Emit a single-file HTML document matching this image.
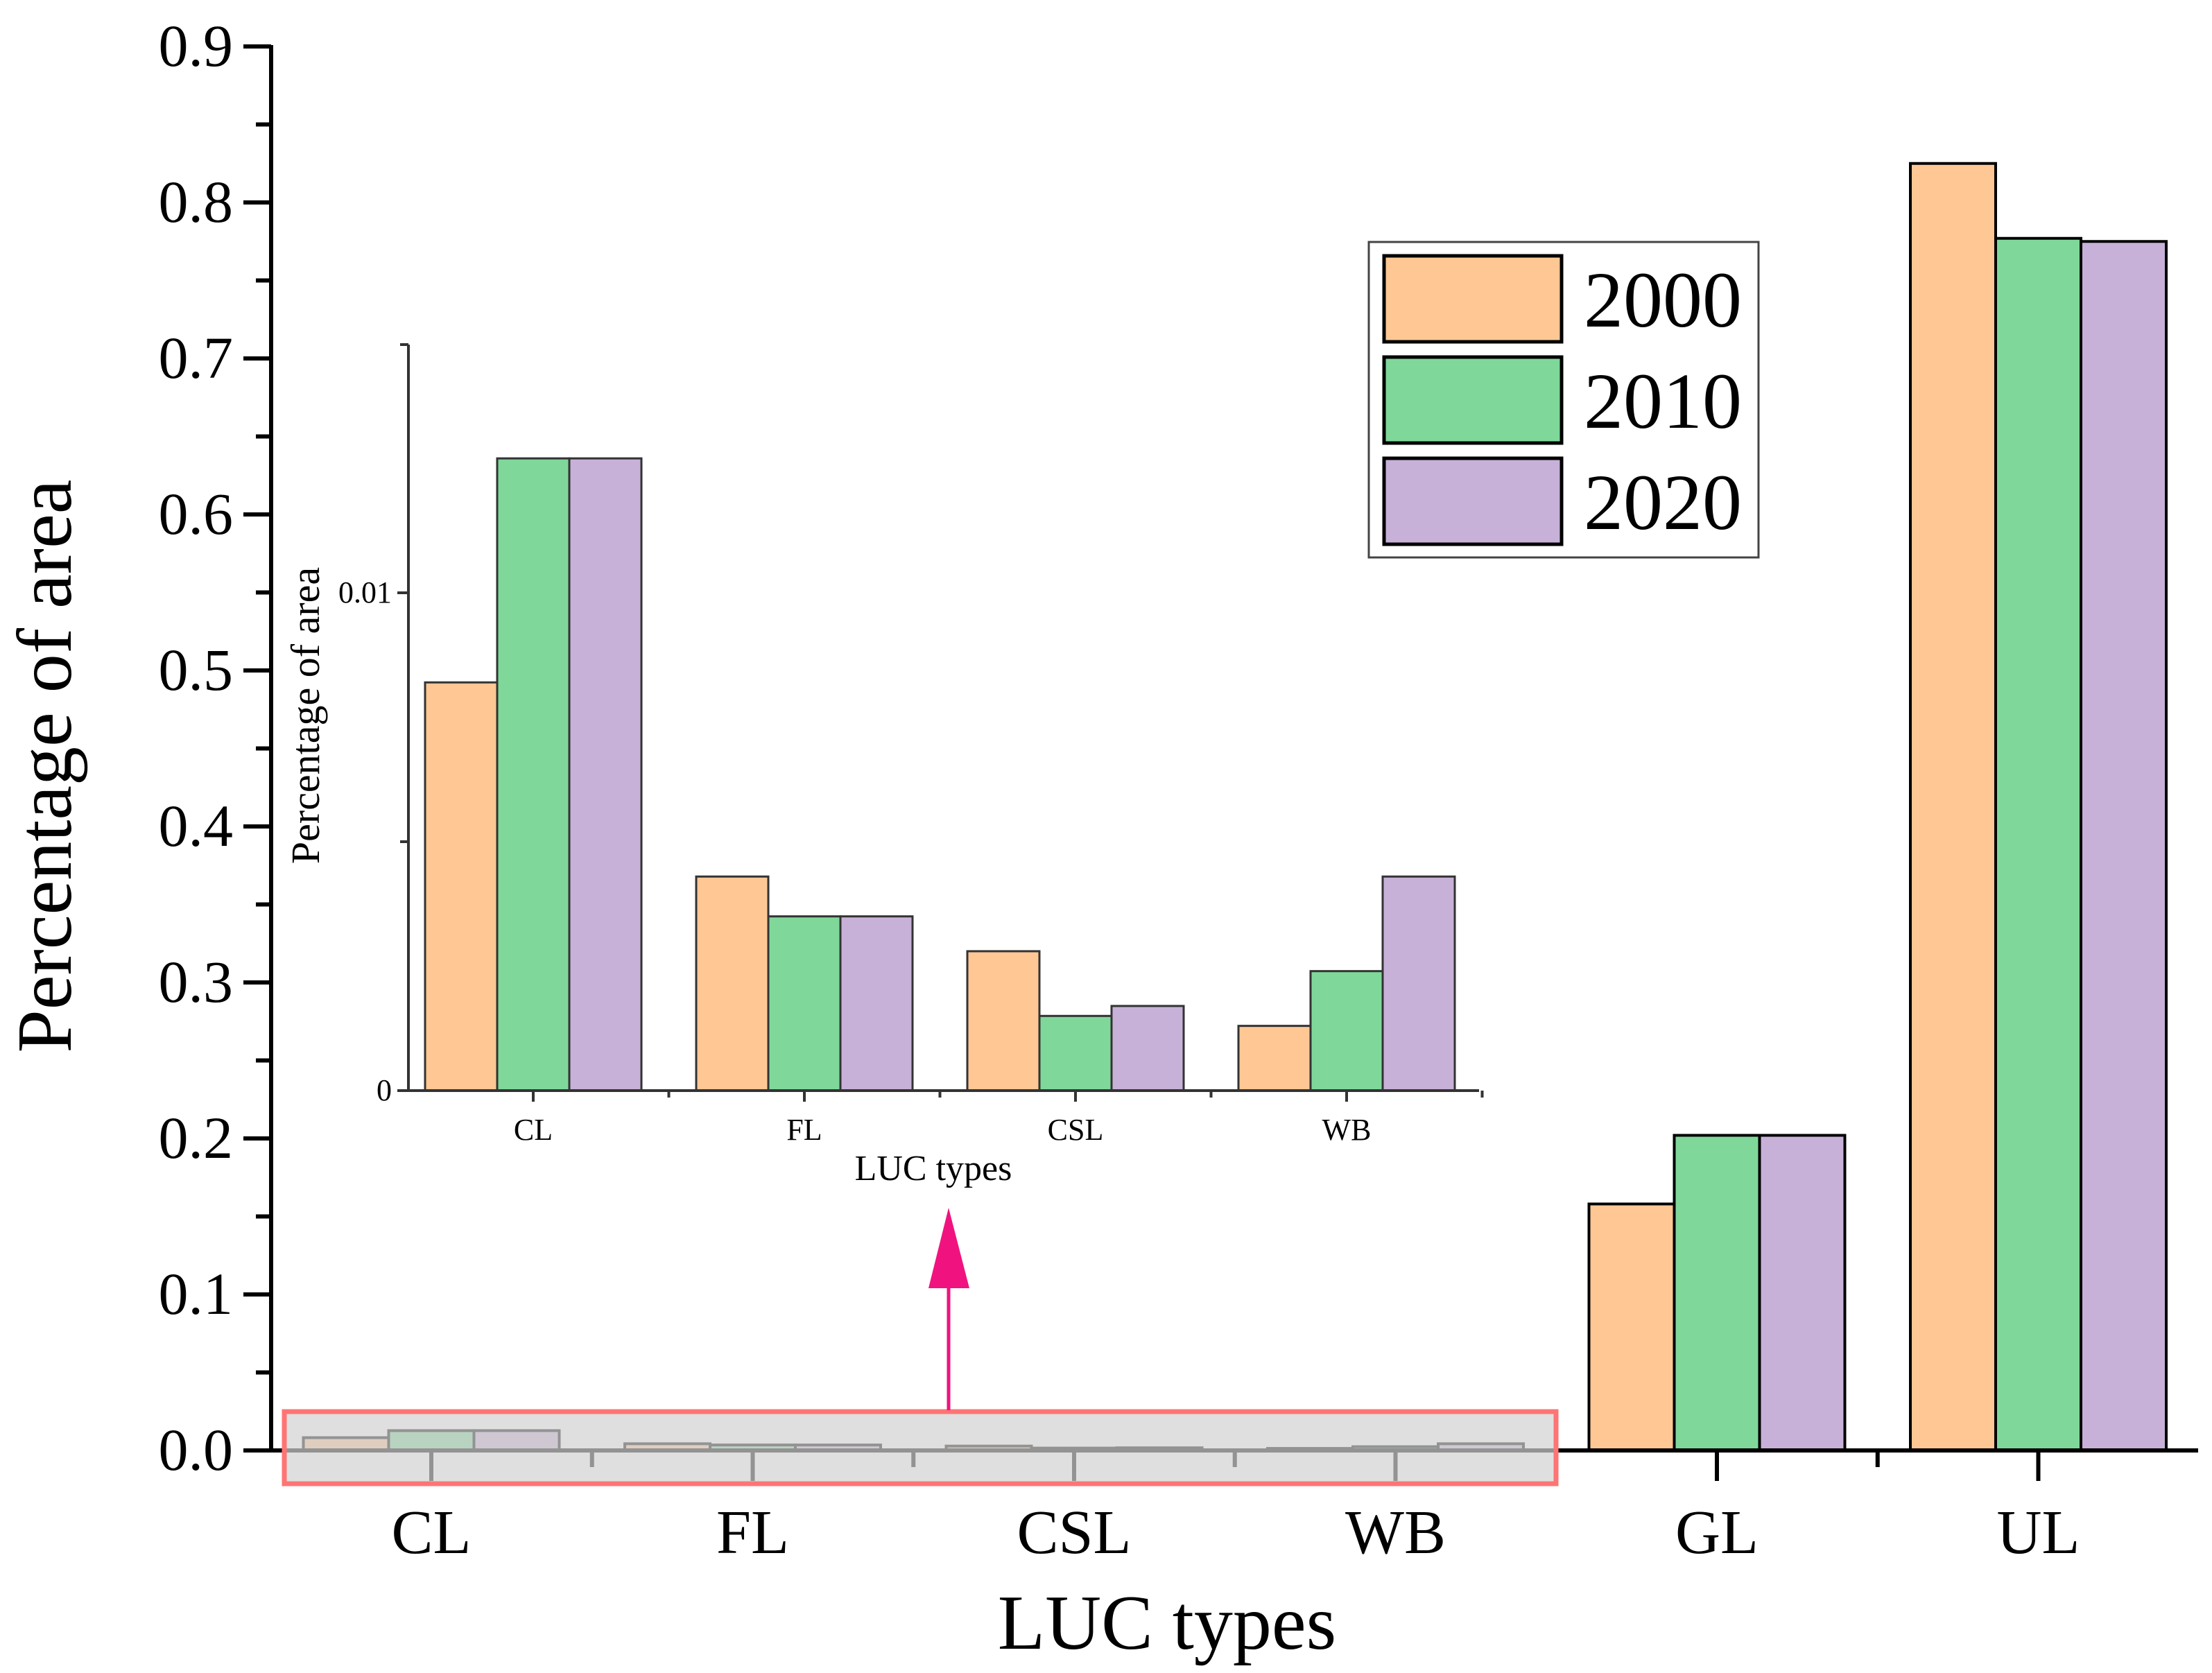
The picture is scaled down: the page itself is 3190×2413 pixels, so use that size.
<!DOCTYPE html>
<html><head><meta charset="utf-8"><style>
html,body{margin:0;padding:0;background:#fff;}
svg{display:block;font-family:"Liberation Serif",serif;}
</style></head><body>
<svg id="chart" width="3190" height="2413" viewBox="0 0 3190 2413" xmlns="http://www.w3.org/2000/svg">
<g id="main"></g><g id="inset"></g><g id="overlay"></g>
</svg>
<script>
const categories = ["CL","FL","CSL","WB","GL","UL"];
const series = ["2000","2010","2020"];
const values2000 = [0.0082,0.0043,0.0028,0.0013,0.158,0.825];
const values2010 = [0.0127,0.0035,0.0015,0.0024,0.202,0.777];
const values2020 = [0.0127,0.0035,0.0017,0.0043,0.202,0.775];
const yTicks = ["0.0","0.1","0.2","0.3","0.4","0.5","0.6","0.7","0.8","0.9"];
const insetCategories = ["CL","FL","CSL","WB"];
const insetTicks = ["0","0.01"];

const NS="http://www.w3.org/2000/svg";
const colors=["#fec794","#7fd89a","#c8b1d8"];
const allVals=[values2000,values2010,values2020];
function mk(parent,tag,attrs,text){const e=document.createElementNS(NS,tag);for(const k in attrs)e.setAttribute(k,attrs[k]);if(text!==undefined)e.textContent=text;parent.appendChild(e);return e;}
const main=document.getElementById('main'), inset=document.getElementById('inset'), ov=document.getElementById('overlay');

const X0=391, XEND=3170, Y0=2092, YTOP=67, YMAX=0.9;
const catStep=463.5, firstCat=622, barW=123;
const y=v=>Y0-(v/YMAX)*(Y0-YTOP);
const xc=i=>firstCat+i*catStep;

for(let s=0;s<3;s++){for(let i=0;i<categories.length;i++){
  const v=allVals[s][i];
  const r=mk(main,'rect',{x:xc(i)-1.5*barW+s*barW,y:y(v),width:barW,height:Y0-y(v),fill:colors[s],stroke:'#000','stroke-width':4});
  
  
}}
let ya=mk(main,'line',{x1:X0,y1:YTOP-2,x2:X0,y2:Y0+2,stroke:'#000','stroke-width':6});

for(let k=0;k<yTicks.length;k++){
  const v=k*0.1;
  mk(main,'line',{x1:X0-40,y1:y(v),x2:X0,y2:y(v),stroke:'#000','stroke-width':6});
  if(k<yTicks.length-1) mk(main,'line',{x1:X0-22,y1:y(v+0.05),x2:X0,y2:y(v+0.05),stroke:'#000','stroke-width':6});
  const t=mk(main,'text',{x:X0-55,y:y(v)+28,'font-size':86,'text-anchor':'end'},yTicks[k]);
  
}
let xa=mk(main,'line',{x1:X0-3,y1:Y0,x2:XEND,y2:Y0,stroke:'#000','stroke-width':6});

for(let i=0;i<categories.length;i++){
  mk(main,'line',{x1:xc(i),y1:Y0,x2:xc(i),y2:Y0+44,stroke:'#000','stroke-width':6});
  if(i<categories.length-1) mk(main,'line',{x1:xc(i)+catStep/2,y1:Y0,x2:xc(i)+catStep/2,y2:Y0+24,stroke:'#000','stroke-width':6});
  const t=mk(main,'text',{x:xc(i),y:2240,'font-size':90,'text-anchor':'middle'},categories[i]);
  
}
let xt=mk(main,'text',{x:1683,y:2378,'font-size':112,'text-anchor':'middle'},'LUC types');

let yt=mk(main,'text',{x:0,y:0,'font-size':112,'text-anchor':'middle',transform:'translate(102,1105) rotate(-90)'},'Percentage of area');


let lg=mk(main,'g',{});

mk(lg,'rect',{x:1974,y:349,width:562,height:455,fill:'#fff',stroke:'#444','stroke-width':3});
for(let s=0;s<3;s++){
  const yy=369+s*146;
  const sw=mk(lg,'rect',{x:1996,y:yy,width:256,height:124,fill:colors[s],stroke:'#000','stroke-width':5});
  
  const t=mk(lg,'text',{x:2284,y:yy+102,'font-size':114},series[s]);
  
}

let hb=mk(ov,'rect',{x:410,y:2036,width:1834,height:104,fill:'rgba(210,210,210,0.7)',stroke:'#ff7474','stroke-width':7});

let al=mk(ov,'line',{x1:1368,y1:2034,x2:1368,y2:1850,stroke:'#f0137f','stroke-width':5});

mk(ov,'polygon',{points:'1368,1742 1339,1858 1398,1858',fill:'#f0137f'});

const IX0=589, IXEND=2133, IY0=1573, IYTOP=497;
const iy=v=>IY0-(v/0.01)*(IY0-855);
const iStep=391, iFirst=769, iBarW=104;
const ixc=i=>iFirst+i*iStep;
for(let s=0;s<3;s++){for(let i=0;i<insetCategories.length;i++){
  const v=allVals[s][i];
  const r=mk(inset,'rect',{x:ixc(i)-1.5*iBarW+s*iBarW,y:iy(v),width:iBarW,height:IY0-iy(v),fill:colors[s],stroke:'#333','stroke-width':3});
  
  
}}
mk(inset,'line',{x1:IX0,y1:IYTOP,x2:IX0,y2:IY0,stroke:'#333','stroke-width':4});
mk(inset,'line',{x1:IX0-12,y1:IYTOP,x2:IX0,y2:IYTOP,stroke:'#333','stroke-width':4});
mk(inset,'line',{x1:IX0-12,y1:iy(0.005),x2:IX0,y2:iy(0.005),stroke:'#333','stroke-width':4});
for(let k=0;k<insetTicks.length;k++){
  const v=k*0.01;
  mk(inset,'line',{x1:IX0-16,y1:iy(v),x2:IX0,y2:iy(v),stroke:'#333','stroke-width':4});
  const t=mk(inset,'text',{x:IX0-24,y:iy(v)+14,'font-size':44,'text-anchor':'end'},insetTicks[k]);
  
}
mk(inset,'line',{x1:IX0,y1:IY0,x2:IXEND,y2:IY0,stroke:'#333','stroke-width':4});
for(let i=0;i<insetCategories.length;i++){
  mk(inset,'line',{x1:ixc(i),y1:IY0,x2:ixc(i),y2:IY0+16,stroke:'#333','stroke-width':4});
  mk(inset,'line',{x1:ixc(i)+iStep/2,y1:IY0,x2:ixc(i)+iStep/2,y2:IY0+10,stroke:'#333','stroke-width':4});
  const t=mk(inset,'text',{x:ixc(i),y:1644,'font-size':44,'text-anchor':'middle'},insetCategories[i]);
  
}
let ixt=mk(inset,'text',{x:1346,y:1702,'font-size':52,'text-anchor':'middle'},'LUC types');

let iyt=mk(inset,'text',{x:0,y:0,'font-size':58,'text-anchor':'middle',transform:'translate(460,1032) rotate(-90)'},'Percentage of area');

</script>
</body></html>
